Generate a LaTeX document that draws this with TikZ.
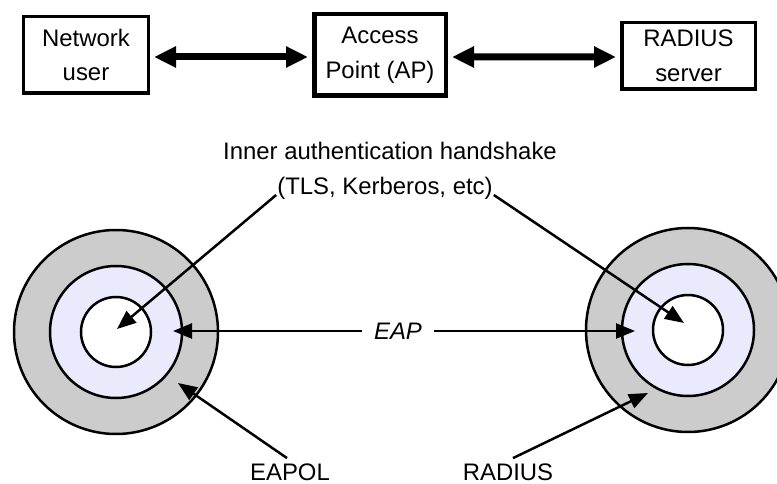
\documentclass[tikz,border=0pt]{standalone}
\usepackage{fontspec}
\setmainfont{Liberation Sans}
\usetikzlibrary{arrows.meta,calc}
\definecolor{ringgrey}{RGB}{204,204,204}
\definecolor{paleblue}{RGB}{234,234,252}
\begin{document}
\begin{tikzpicture}[x=1bp,y=-1bp,
  lbl/.style={font=\fontsize{24}{35}\selectfont, inner sep=0pt},
  entity/.style={draw, rectangle, align=center, inner sep=0pt,
    font=\fontsize{24}{35}\selectfont},
  link/.style={line width=7bp,
    {Triangle[length=22bp,width=20bp]}-{Triangle[length=22bp,width=20bp]},
    shorten <=4bp, shorten >=4bp},
  ring/.style={circle, draw, line width=2.5bp, inner sep=0pt},
  pointer/.style={line width=2.5bp, -{Triangle[length=19bp,width=15bp]}},
]
\useasboundingbox (0,0) rectangle (777,484);
\clip (0,0) rectangle (777,484);

% top row: the three parties
\node[entity, line width=3.5bp, minimum width=124.5bp, minimum height=76.5bp]
  (user) at (86,55) {Network\\user};
\node[entity, line width=4.5bp, minimum width=131.5bp, minimum height=81.5bp]
  (ap) at (380,55) {Access\\Point (AP)};
\node[entity, line width=3.5bp, minimum width=133.5bp, minimum height=66.5bp]
  (radsrv) at (688.5,56) {RADIUS\\server};

\draw[link] ([yshift=-2bp]user.east) -- ([yshift=-2bp]ap.west);
\draw[link] ([yshift=-2bp]ap.east) -- ([yshift=-1bp]radsrv.west);

% protocol layers at each end
\node[ring, fill=ringgrey, minimum size=204bp] (lout) at (116,332) {};
\node[ring, fill=paleblue, minimum size=132bp] (lmid) at (116,332) {};
\node[ring, fill=white, minimum size=70bp] (lin) at (116,332) {};
\node[ring, fill=ringgrey, minimum size=204bp] (rout) at (688,330) {};
\node[ring, fill=paleblue, minimum size=132bp] (rmid) at (688,330) {};
\node[ring, fill=white, minimum size=70bp] (rin) at (688,330) {};

% inner handshake
\node[lbl, anchor=base] (inner1) at (390,160) {Inner authentication handshake};
\node[lbl, anchor=base, inner sep=1bp] (inner2) at (385,195) {(TLS, Kerberos, etc)};
\coordinate (tipL) at (117,329);
\coordinate (tipR) at (684,323);
\draw[pointer] (inner2.base west) -- (tipL);
\draw[pointer] (inner2.base east) -- (tipR);

% EAP between the middle rings
\node[lbl, font=\fontsize{24}{35}\selectfont\itshape, inner xsep=12bp]
  (eap) at (398,331) {EAP};
\coordinate (eapL) at (173,331);
\coordinate (eapR) at (635,331);
\draw[pointer] (eap.west) -- (eapL);
\draw[pointer] (eap.east) -- (eapR);

% outer transports
\node[lbl, anchor=base] (eapol) at (290,480) {EAPOL};
\node[lbl, anchor=base] (radius) at (508,480) {RADIUS};
\coordinate (ringL) at (178,383);
\coordinate (ringR) at (648,393);
\draw[pointer] ([xshift=-3bp,yshift=5bp]eapol.north) -- (ringL);
\draw[pointer] ([xshift=5bp,yshift=5bp]radius.north) -- (ringR);
\end{tikzpicture}
\end{document}
